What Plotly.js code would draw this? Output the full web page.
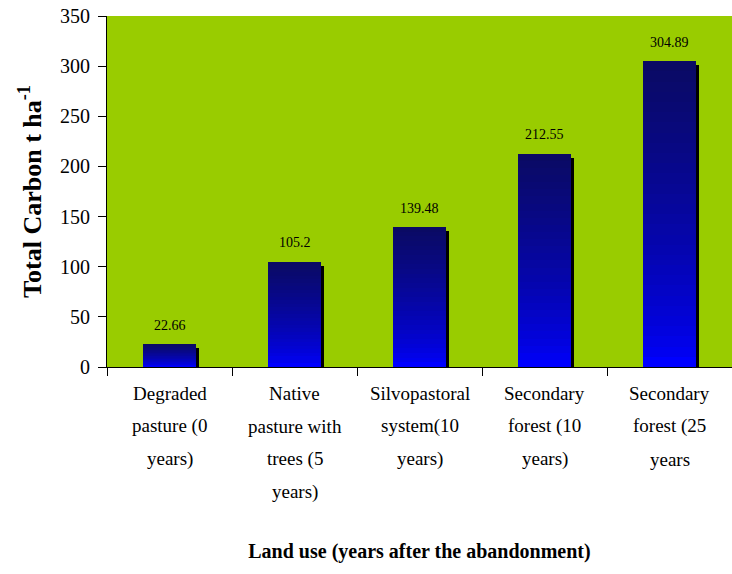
<!DOCTYPE html>
<html>
<head>
<meta charset="utf-8">
<script src="https://cdn.plot.ly/plotly-3.0.1.min.js"></script>
<style>html,body{margin:0;padding:0;background:#fff;}#chart{width:732px;height:574px;}</style>
</head>
<body>
<div id="chart"></div>
<script>
// ---- data ----
const categories = [
  "Degraded<br>pasture (0<br>years)",
  "Native<br>pasture with<br>trees (5<br>years)",
  "Silvopastoral<br>system(10<br>years)",
  "Secondary<br>forest (10<br>years)",
  "Secondary<br>forest (25<br>years"
];
const values = [22.66, 105.2, 139.48, 212.55, 304.89];
const valueLabels = ["22.66", "105.2", "139.48", "212.55", "304.89"];
const yTicks = [0, 50, 100, 150, 200, 250, 300, 350];

// ---- styling ----
const serif = "Liberation Serif";
const xIdx = categories.map((c, i) => i);
const boundaries = [-0.5].concat(xIdx.map(i => i + 0.5));
const barW = 0.42;
const N = 30; // gradient segments
const topCol = [10, 10, 100], bottomCol = [0, 0, 255];
function mix(t) {
  const c = topCol.map((a, j) => Math.round(bottomCol[j] + (a - bottomCol[j]) * t));
  return `rgb(${c[0]},${c[1]},${c[2]})`;
}

const traces = [];
// shadow
traces.push({
  type: "bar", x: xIdx, y: values.map(v => Math.max(v - 4, 0)),
  width: barW, offset: -barW / 2 + 0.022,
  marker: {color: "#000", line: {width: 0}}, hoverinfo: "skip", showlegend: false
});
// gradient segments
for (let k = 0; k < N; k++) {
  const t = Math.pow(k / (N - 1), 0.7);
  traces.push({
    type: "bar", x: xIdx,
    base: values.map(v => v * k / N),
    y: values.map(v => v / N * (k < N - 1 ? 1.15 : 1)),
    width: barW, offset: -barW / 2,
    marker: {color: mix(t), line: {width: 0}},
    hoverinfo: "skip", showlegend: false
  });
}

// value labels above bars
const annotations = values.map((v, i) => ({
  x: i, y: v, xref: "x", yref: "y", text: valueLabels[i], showarrow: false,
  yshift: 19, font: {family: serif, size: 14, color: "#000"}
}));
// category labels (one line per annotation for the reference's wide line spacing)
categories.forEach((c, i) => {
  c.split("<br>").forEach((line, j) => {
    annotations.push({
      x: i, y: 0, xref: "x", yref: "paper", yanchor: "middle",
      text: line, showarrow: false, yshift: -(26 + 33 * j),
      font: {family: serif, size: 19, color: "#000"}
    });
  });
});

const layout = {
  width: 732, height: 574,
  margin: {l: 107, r: 0, t: 16, b: 207},
  paper_bgcolor: "#ffffff", plot_bgcolor: "#99cc00",
  barmode: "overlay", bargap: 0,
  showlegend: false,
  annotations: annotations,
  xaxis: {
    type: "linear", range: [-0.5, 4.5],
    tickmode: "array", tickvals: boundaries, showticklabels: false,
    showline: true, linecolor: "#000", linewidth: 1,
    ticks: "outside", ticklen: 8, tickcolor: "#000",
    showgrid: false, zeroline: false,
    title: {text: "Land use (years after the abandonment)", standoff: 168,
            font: {family: serif, size: 20, color: "#000", weight: "bold"}}
  },
  yaxis: {
    range: [0, 350], tickmode: "array", tickvals: yTicks,
    showline: true, linecolor: "#000", linewidth: 1,
    ticks: "outside", ticklen: 8, tickcolor: "#000",
    ticklabelstandoff: 4,
    showgrid: false, zeroline: false,
    tickfont: {family: serif, size: 20, color: "#000"},
    title: {text: "Total Carbon t ha<sup>-1</sup>", standoff: 10,
            font: {family: serif, size: 26, color: "#000", weight: "bold"}}
  }
};

Plotly.newPlot("chart", traces, layout, {staticPlot: true});
</script>
</body>
</html>
